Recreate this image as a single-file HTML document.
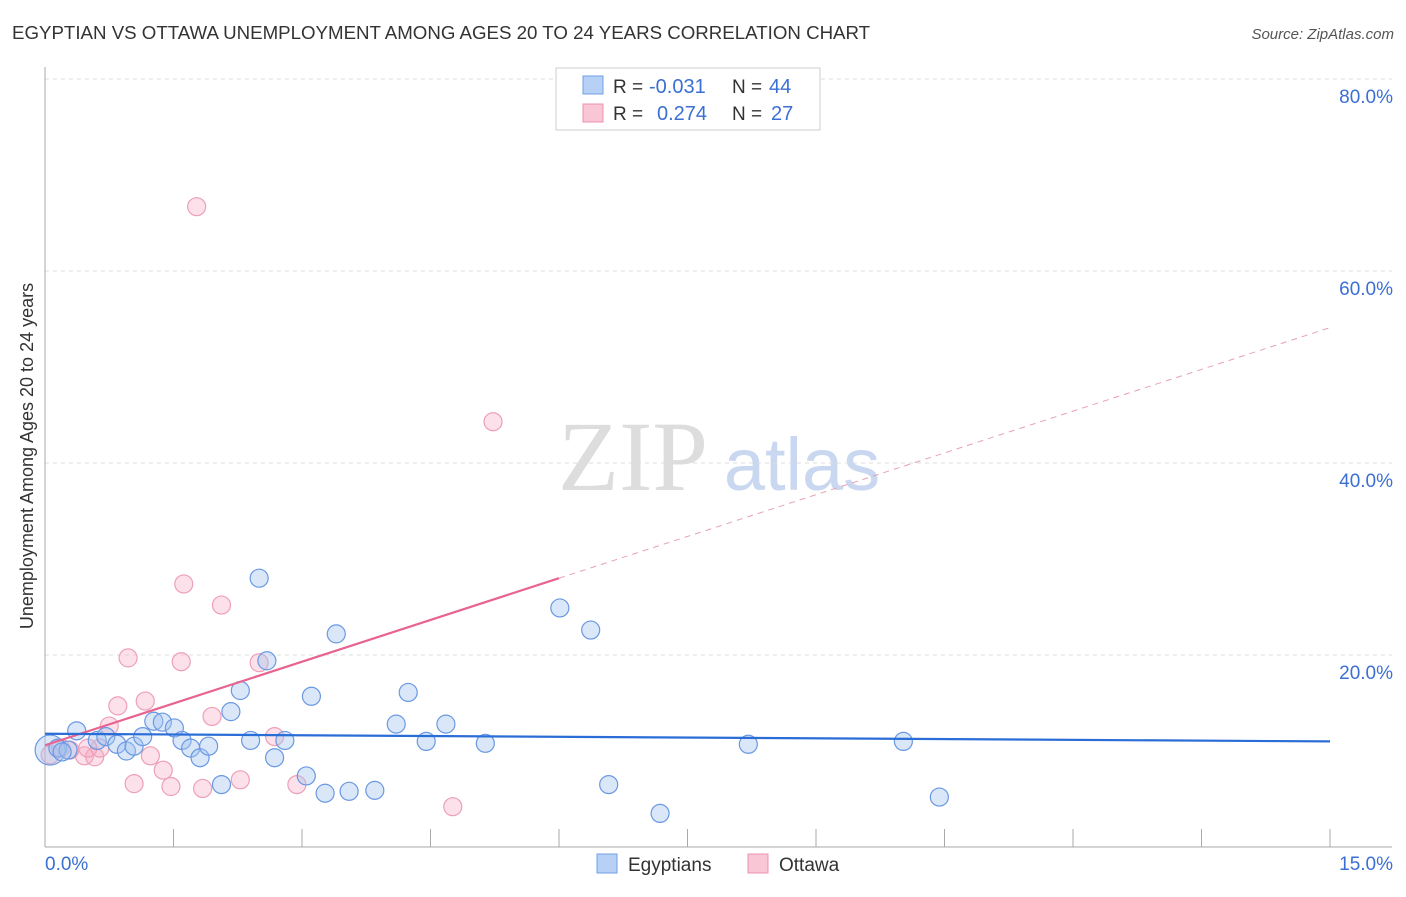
<!DOCTYPE html>
<html><head><meta charset="utf-8"><style>
body{margin:0;background:#fff;font-family:"Liberation Sans",sans-serif;}
svg text{font-family:"Liberation Sans",sans-serif;}
</style></head><body>
<svg width="1406" height="892" id="c">
<text x="12" y="39" font-size="18.7" fill="#333">EGYPTIAN VS OTTAWA UNEMPLOYMENT AMONG AGES 20 TO 24 YEARS CORRELATION CHART</text>
<text x="1394" y="39" font-size="15" fill="#555" font-style="italic" text-anchor="end">Source: ZipAtlas.com</text>
<text x="33" y="456" font-size="18" fill="#333" text-anchor="middle" transform="rotate(-90 33 456)">Unemployment Among Ages 20 to 24 years</text>
<g><text x="633" y="490" font-size="100" fill="#ddd" font-family="Liberation Serif" text-anchor="middle" style="font-family:'Liberation Serif',serif">ZIP</text><text x="802" y="490" font-size="74" fill="#c9d8f0" text-anchor="middle">atlas</text></g>
<g id="grid"></g><g id="axes"></g><g id="marks"></g>
<g>
<rect x="556" y="68" width="264" height="62" fill="#fff" stroke="#ccc"/>
<rect x="583" y="76" width="20" height="18" fill="#b7d0f5" stroke="#6f9fe6"/>
<text x="613" y="93" font-size="19" fill="#333">R = </text><text x="649" y="93" font-size="20" fill="#3b6fd4">-0.031</text>
<text x="732" y="93" font-size="19" fill="#333">N = </text><text x="769" y="93" font-size="20" fill="#3b6fd4">44</text>
<rect x="583" y="104" width="20" height="18" fill="#f9c6d5" stroke="#ec93ae"/>
<text x="613" y="120" font-size="19" fill="#333">R = </text><text x="657" y="120" font-size="20" fill="#3b6fd4">0.274</text>
<text x="732" y="120" font-size="19" fill="#333">N = </text><text x="771" y="120" font-size="20" fill="#3b6fd4">27</text>
</g>
<g>
<rect x="597" y="854" width="20" height="19" fill="#b7d0f5" stroke="#6f9fe6"/><text x="628" y="871" font-size="19" fill="#333">Egyptians</text>
<rect x="748" y="854" width="20" height="19" fill="#f9c6d5" stroke="#ec93ae"/><text x="779" y="871" font-size="19" fill="#333">Ottawa</text>
</g>
</svg>
<script>
const yTicks=[20,40,60,80];
const xTickLabels=["0.0%","15.0%"];
const blueX=[0.06,0.15,0.27,0.37,0.61,0.71,0.84,0.95,1.04,1.14,1.27,1.37,1.51,1.6,1.7,1.81,1.91,2.06,2.17,2.28,2.4,2.5,2.59,2.68,2.8,3.05,3.11,3.27,3.4,3.55,3.85,4.1,4.24,4.45,4.68,5.14,6.01,6.37,6.58,7.18,8.21,10.02,10.44,0.2];
const blueY=[10.1,10.3,10.1,12.1,11.1,11.5,10.7,10.0,10.5,11.5,13.1,13.0,12.4,11.1,10.3,9.3,10.5,6.5,14.1,16.3,11.1,28.0,19.4,9.3,11.1,7.4,15.7,5.6,22.2,5.8,5.9,12.8,16.1,11.0,12.8,10.8,24.9,22.6,6.5,3.5,10.7,11.0,5.2,9.9];
const blueR=[15,9,9,9,9,9,9,9,9,9,9,9,9,9,9,9,9,9,9,9,9,9,9,9,9,9,9,9,9,9,9,9,9,9,9,9,9,9,9,9,9,9,9,9];
const pinkX=[0.06,0.18,0.29,0.46,0.58,0.64,0.75,0.85,0.97,1.04,1.17,1.23,1.38,1.47,1.59,1.62,1.77,1.84,1.95,2.06,2.28,2.5,2.68,2.94,4.76,5.23,0.5];
const pinkY=[9.6,10.3,10.1,9.5,9.4,10.3,12.6,14.7,19.7,6.6,15.2,9.5,8.0,6.3,19.3,27.4,66.7,6.1,13.6,25.2,7.0,19.2,11.5,6.5,4.2,44.3,10.3];
const blueLine=[11.8,11.0];
const pinkLine=[10.6,54.1];
const pinkSolidEnd=6.0;
const NS="http://www.w3.org/2000/svg";
const X=v=>45+v/1.5*128.5, Y=v=>847-v*9.6;
function mk(t,a,p){const e=document.createElementNS(NS,t);for(const k in a)e.setAttribute(k,a[k]);document.getElementById(p).appendChild(e);return e;}
yTicks.forEach(t=>{
 const l=mk('line',{x1:45,x2:1392,y1:Y(t),y2:Y(t),stroke:'#ddd','stroke-dasharray':'4,4'},'grid');
 
 
 const tx=mk('text',{x:1393,y:Y(t)+24,'font-size':19,fill:'#3b6fd4','text-anchor':'end'},'grid');tx.textContent=t+'.0%';
 
 
});
const ax=mk('line',{x1:45,x2:45,y1:67,y2:847,stroke:'#aaa'},'axes');


const bx=mk('line',{x1:45,x2:1392,y1:847,y2:847,stroke:'#aaa'},'axes');


for(let i=1;i<=10;i++){const t=mk('line',{x1:X(i*1.5),x2:X(i*1.5),y1:829,y2:847,stroke:'#aaa'},'axes');
 
 }
[[45,'start',xTickLabels[0]],[1393,'end',xTickLabels[1]]].forEach(a=>{const t=mk('text',{x:a[0],y:870,'font-size':19,fill:'#3b6fd4','text-anchor':a[1]},'axes');t.textContent=a[2];
 
 });
pinkX.forEach((x,i)=>{const c=mk('circle',{cx:X(x),cy:Y(pinkY[i]),r:9,fill:'rgba(246,170,195,0.35)',stroke:'#ee9fb8','stroke-width':1.2},'marks');
 
 });
blueX.forEach((x,i)=>{const c=mk('circle',{cx:X(x),cy:Y(blueY[i]),r:blueR[i],fill:'rgba(160,195,240,0.4)',stroke:'#6a98e2','stroke-width':1.2},'marks');
 
 });
const pAt=x=>pinkLine[0]+(pinkLine[1]-pinkLine[0])*x/15;
const pl=mk('line',{x1:X(0),y1:Y(pAt(0)),x2:X(pinkSolidEnd),y2:Y(pAt(pinkSolidEnd)),stroke:'#e8638f','stroke-width':2.2},'marks');


const pd=mk('line',{x1:X(pinkSolidEnd),y1:Y(pAt(pinkSolidEnd)),x2:X(15),y2:Y(pAt(15)),stroke:'#e8a0b5','stroke-width':1,'stroke-dasharray':'6,5'},'marks');


const bl=mk('line',{x1:X(0),y1:Y(blueLine[0]),x2:X(15),y2:Y(blueLine[1]),stroke:'#2a6dd6','stroke-width':2.2},'marks');


</script>
</body></html>
